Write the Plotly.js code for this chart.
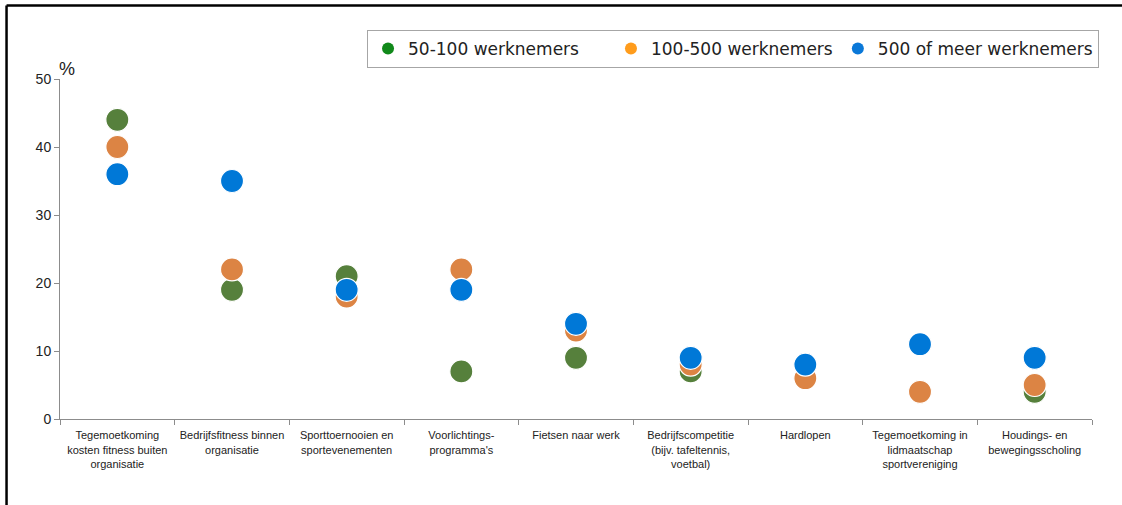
<!DOCTYPE html>
<html>
<head>
<meta charset="utf-8">
<script src="https://cdn.plot.ly/plotly-3.0.1.min.js"></script>
<style>
  html, body { margin: 0; padding: 0; background: #fff; }
  #chart { width: 1122px; height: 505px; }
</style>
</head>
<body>
<div id="chart"></div>
<script>
// Voorzieningen voor sport en bewegen, naar bedrijfsgrootte (%)
const categories = [
  "Tegemoetkoming<br>kosten fitness buiten<br>organisatie",
  "Bedrijfsfitness binnen<br>organisatie",
  "Sporttoernooien en<br>sportevenementen",
  "Voorlichtings-<br>programma's",
  "Fietsen naar werk",
  "Bedrijfscompetitie<br>(bijv. tafeltennis,<br>voetbal)",
  "Hardlopen",
  "Tegemoetkoming in<br>lidmaatschap<br>sportvereniging",
  "Houdings- en<br>bewegingsscholing"
];

const seriesNames = ["50-100 werknemers", "100-500 werknemers", "500 of meer werknemers"];

const small  = [44, 19, 21, 7, 9, 7, null, null, 4];   // 50-100 werknemers
const medium = [40, 22, 18, 22, 13, 8, 6, 4, 5];       // 100-500 werknemers
const large  = [36, 35, 19, 19, 14, 9, 8, 11, 9];      // 500 of meer werknemers

const yTicks = [0, 10, 20, 30, 40, 50];

const markerColors = ["#56803c", "#dc8444", "#0078d7"];
const legendColors = ["#11891a", "#ff9c1c", "#0a78d8"];
// extra trailing space after each legend label, for item spacing
const legendPad = [5, 0, 0];
const values = [small, medium, large];

const traces = [];
values.forEach((vals, i) => {
  traces.push({
    type: "scatter",
    mode: "markers",
    x: categories,
    y: vals,
    name: seriesNames[i],
    showlegend: false,
    hoverinfo: "x+y",
    marker: { size: 23, color: markerColors[i], line: { color: "#ffffff", width: 1.2 } }
  });
});
// Legend entries
seriesNames.forEach((name, i) => {
  traces.push({
    type: "scatter",
    mode: "markers",
    x: [null],
    y: [null],
    name: name + "\u00a0".repeat(legendPad[i]),
    showlegend: true,
    marker: { size: 12, color: legendColors[i] }
  });
});

const layout = {
  width: 1122,
  height: 505,
  paper_bgcolor: "#ffffff",
  plot_bgcolor: "#ffffff",
  margin: { l: 60, r: 30, t: 79, b: 86, pad: 0 },
  font: { family: "Liberation Sans, Arial, sans-serif", color: "#222" },
  showlegend: true,
  legend: {
    orientation: "h",
    x: 0.2975,
    xanchor: "left",
    y: 1.144,
    yanchor: "top",
    bordercolor: "#a6a6a6",
    borderwidth: 1,
    bgcolor: "#ffffff",
    font: { family: "DejaVu Sans, Verdana, sans-serif", size: 17, color: "#222" },
    itemclick: false
  },
  xaxis: {
    type: "category",
    categoryorder: "array",
    categoryarray: categories,
    range: [-0.5, categories.length - 0.5],
    showline: true,
    linecolor: "#8c8c8c",
    linewidth: 1,
    ticks: "outside",
    tickson: "boundaries",
    ticklen: 5,
    tickcolor: "#8c8c8c",
    tickangle: 0,
    ticklabelstandoff: 6,
    showgrid: false,
    zeroline: false,
    tickfont: { family: "Liberation Sans, Arial, sans-serif", size: 11, color: "#222" },
    fixedrange: true
  },
  yaxis: {
    range: [0, 50],
    tickvals: yTicks,
    ticktext: yTicks.map(String),
    showline: true,
    linecolor: "#8c8c8c",
    linewidth: 1,
    ticks: "outside",
    ticklen: 5,
    tickcolor: "#8c8c8c",
    showgrid: false,
    zeroline: false,
    tickfont: { family: "Liberation Sans, Arial, sans-serif", size: 14, color: "#222" },
    fixedrange: true
  },
  annotations: [{
    text: "%",
    xref: "paper", yref: "paper",
    x: 0.0068, y: 1.029,
    xanchor: "center", yanchor: "middle",
    showarrow: false,
    font: { family: "Liberation Sans, Arial, sans-serif", size: 18, color: "#222" }
  }],
  shapes: [
    // outer frame: left and top edges
    { type: "line", xref: "paper", yref: "paper", x0: -0.0518, x1: -0.0518, y0: -0.26, y1: 1.2162,
      line: { color: "#000", width: 2.5 } },
    { type: "line", xref: "paper", yref: "paper", x0: -0.0518, x1: 1.04, y0: 1.2162, y1: 1.2162,
      line: { color: "#000", width: 2.5 } }
  ]
};

Plotly.newPlot("chart", traces, layout, { displayModeBar: false, staticPlot: true });
</script>
</body>
</html>
